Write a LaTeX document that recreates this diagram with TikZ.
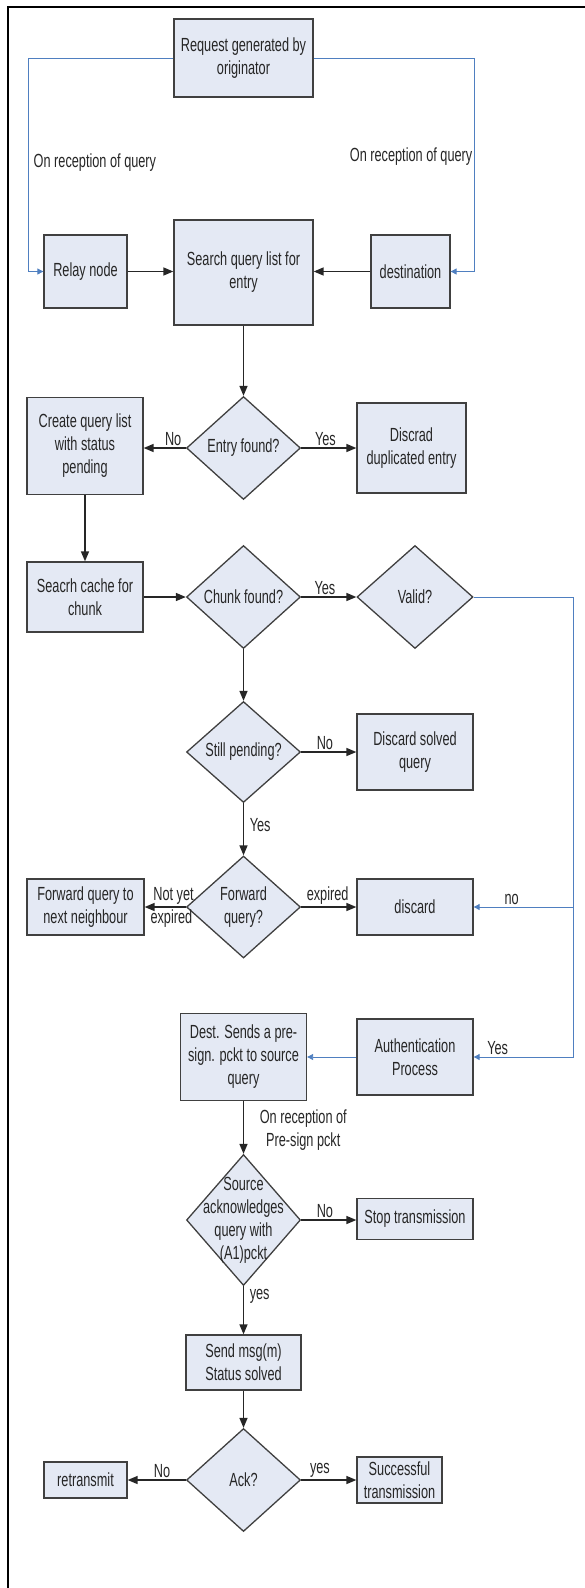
\documentclass[tikz,border=0pt]{standalone}
\usepackage{fontspec}
\setmainfont{Liberation Sans}[FakeStretch=0.67]
\usepackage{tikz}
\usetikzlibrary{shapes.geometric,arrows.meta}
\definecolor{box-fill}{HTML}{E4E9F4}
\definecolor{box-line}{HTML}{404040}
\definecolor{link-blue}{HTML}{4F7FC0}
\definecolor{ink}{HTML}{262626}

\begin{document}
\begin{tikzpicture}[x=1pt, y=-1pt,
    font=\fontsize{19}{23}\selectfont, text=ink,
    proc/.style={rectangle, draw=box-line, fill=box-fill, line width=1.3pt, align=center, inner sep=0pt},
    dec/.style={diamond, draw=box-line, fill=box-fill, line width=1.3pt, align=center, inner sep=0pt,
        minimum width=114pt, minimum height=103pt},
    flow/.style={line width=1.5pt, draw=ink, -{Triangle[length=10pt,width=8pt]}},
    link/.style={line width=0.9pt, draw=link-blue, -{Triangle[length=6pt,width=6pt]}},
    lbl/.style={inner sep=1.5pt}]
    \useasboundingbox (0,0) rectangle (585,1588);
    \draw[line width=2pt] (7.5,1588) -- (7.5,7) -- (585,7);

    % boxes and decisions
    \node[proc, minimum width=139pt, minimum height=78pt] (req) at (243.5,58) {Request generated by\\originator};
    \node[proc, minimum width=83pt, minimum height=73pt] (relay) at (85.5,271.5) {Relay node};
    \node[proc, minimum width=139pt, minimum height=105pt] (search) at (243.5,272.5) {Search query list for\\entry};
    \node[proc, minimum width=79pt, minimum height=73pt] (dest) at (410.5,271.5) {destination};
    \node[dec] (entry) at (243.5,448) {Entry found?};
    \node[proc, minimum width=116pt, minimum height=97pt] (create) at (85,446) {Create query list\\with status\\pending};
    \node[proc, minimum width=109pt, minimum height=90pt] (dup) at (411.5,448) {Discrad\\duplicated entry};
    \node[proc, minimum width=116pt, minimum height=70pt] (cache) at (85,597) {Seacrh cache for\\chunk};
    \node[dec] (chunk) at (243.5,597) {Chunk found?};
    \node[dec, minimum width=116pt] (valid) at (415,597) {Valid?};
    \node[dec, minimum height=101pt] (pend) at (243.5,752) {Still pending?};
    \node[proc, minimum width=116pt, minimum height=76pt] (solved) at (415,752) {Discard solved\\query};
    \node[dec, minimum height=102pt] (fwdq) at (243.5,907) {Forward\\query?};
    \node[proc, minimum width=117pt, minimum height=56pt] (fwd) at (85.5,907) {Forward query to\\next neighbour};
    \node[proc, minimum width=116pt, minimum height=56pt] (disc) at (415,907) {discard};
    \node[proc, minimum width=116pt, minimum height=76pt] (auth) at (415,1057) {Authentication\\Process};
    \node[proc, minimum width=126pt, minimum height=87pt] (presign) at (243.5,1057) {Dest. Sends a pre-\\sign. pckt to source\\query};
    \node[dec, minimum height=131pt, label={[align=center]center:Source\\acknowledges\\query with\\(A1)pckt}] (srcack) at (243.5,1220) {};
    \node[proc, minimum width=116pt, minimum height=41pt] (stop) at (415,1219) {Stop transmission};
    \node[proc, minimum width=115pt, minimum height=55pt] (send) at (243.5,1362.5) {Send msg(m)\\Status solved};
    \node[dec] (ack) at (243.5,1480) {Ack?};
    \node[proc, minimum width=83pt, minimum height=36pt] (retx) at (85.5,1480) {retransmit};
    \node[proc, minimum width=85pt, minimum height=46pt] (done) at (399.5,1480) {Successful\\transmission};

    % reception notes
    \node[lbl, anchor=west] (recl) at (32,163) {On reception of query};
    \node[lbl, anchor=east] (recr) at (474,157) {On reception of query};

    % blue connectors
    \draw[link] (req.west) -- ++(-145,0) |- (relay.west);
    \draw[link] (req.east) -- ++(161,0) |- (dest.east);
    \draw[link] (valid.east) -- ++(100,0) coordinate (vr) |- (auth.east) node[lbl, above, pos=0.88] {Yes};
    \draw[link] (vr |- disc.east) -- (disc.east) node[lbl, above, pos=0.62] {no};
    \draw[link] (auth.west) -- (auth.west -| presign.east);

    % black connectors
    \draw[flow] (relay.east) -- (relay.east -| search.west);
    \draw[flow] (dest.west) -- (dest.west -| search.east);
    \draw[flow] (search.south) -- (entry.north);
    \draw[flow] (entry.west) -- (entry.west -| create.east) node[lbl, above, pos=0.3] {No};
    \draw[flow] (entry.east) -- (entry.east -| dup.west) node[lbl, above, pos=0.44] {Yes};
    \draw[flow] (create.south) -- (cache.north);
    \draw[flow] (cache.east) -- (chunk.west);
    \draw[flow] (chunk.east) -- (valid.west) node[lbl, above, pos=0.43] {Yes};
    \draw[flow] (chunk.south) -- (pend.north);
    \draw[flow] (pend.east) -- (pend.east -| solved.west) node[lbl, above, pos=0.43] {No};
    \draw[flow] (pend.south) -- (fwdq.north) node[lbl, right=4pt, pos=0.42] {Yes};
    \draw[flow] (fwdq.west) -- (fwdq.west -| fwd.east)
        node[lbl, above, pos=0.3] {Not yet} node[lbl, below, pos=0.35] {expired};
    \draw[flow] (fwdq.east) -- (fwdq.east -| disc.west) node[lbl, above, pos=0.48] {expired};
    \draw[flow] (presign.south) -- (srcack.north)
        node[lbl, right=14pt, pos=0.55, align=center] {On reception of\\Pre-sign pckt};
    \draw[flow] (srcack.east) -- (srcack.east -| stop.west) node[lbl, above, pos=0.43] {No};
    \draw[flow] (srcack.south) -- (send.north) node[lbl, right=4pt, pos=0.22] {yes};
    \draw[flow] (send.south) -- (ack.north);
    \draw[flow] (ack.west) -- (ack.west -| retx.east) node[lbl, above, pos=0.41] {No};
    \draw[flow] (ack.east) -- (ack.east -| done.west) node[lbl, above, pos=0.34] {yes};
\end{tikzpicture}
\end{document}
